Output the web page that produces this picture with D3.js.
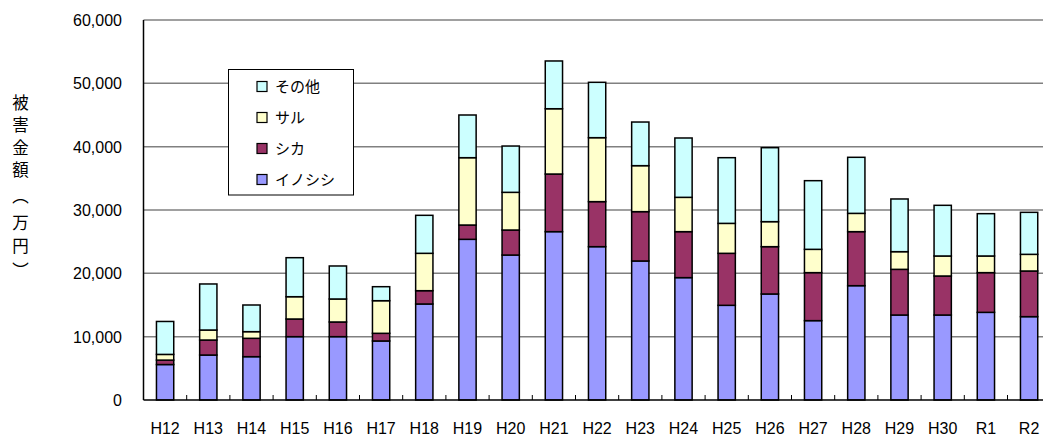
<!DOCTYPE html>
<html>
<head>
<meta charset="utf-8">
<script src="https://cdn.jsdelivr.net/npm/d3@7"></script>
<style>
body { margin: 0; background: #fff; }
text { font-family: "Liberation Sans", Arial, sans-serif; }
.jp { font-family: "Noto Sans CJK JP", sans-serif; }
</style>
</head>
<body>
<script>
var width = 1043, height = 438;

// years (Heisei / Reiwa)
var years = ["H12","H13","H14","H15","H16","H17","H18","H19","H20","H21","H22",
             "H23","H24","H25","H26","H27","H28","H29","H30","R1","R2"];

// damage in 10,000 yen
var inoshishi = [5600, 7100, 6840, 10000, 10000, 9320, 15160, 25370, 22890, 26580, 24210,
                 21950, 19320, 14950, 16740, 12530, 18050, 13420, 13420, 13840, 13160];
var shika     = [700, 2370, 2900, 2790, 2320, 1210, 2100, 2260, 3950, 9100, 7110,
                 7790, 7260, 8210, 7470, 7580, 8530, 7210, 6160, 6270, 7210];
var saru      = [900, 1580, 1050, 3520, 3630, 5150, 5900, 10630, 5950, 10310, 10100,
                 7260, 5420, 4730, 3950, 3680, 2890, 2790, 3160, 2630, 2630];
var sonota    = [5200, 7270, 4210, 6160, 5210, 2210, 6000, 6740, 7310, 7540, 8740,
                 6890, 9370, 10370, 11680, 10840, 8850, 8320, 8000, 6680, 6630];

var seriesKeys = ["イノシシ", "シカ", "サル", "その他"];
var seriesColors = ["#9999ff", "#993366", "#ffffcc", "#ccffff"];
var yTicks = [0, 10000, 20000, 30000, 40000, 50000, 60000];

var rows = years.map(function(y, i){
    return {year: y, "イノシシ": inoshishi[i], "シカ": shika[i], "サル": saru[i], "その他": sonota[i]};
});

var plotLeft = 143.5, plotTop = 20, plotBottom = 400;
var step = 43.2;
var plotRight = plotLeft + step * years.length;

var svg = d3.select("body")
.append("svg")
.attr("width", width)
.attr("height", height);

var x = d3.scaleBand()
.domain(years)
.range([plotLeft, plotRight])
.paddingInner(0.6)
.paddingOuter(0.3);

var y = d3.scaleLinear()
.domain([0, 60000])
.range([plotBottom, plotTop]);

// gridlines
svg.append("g")
.selectAll("line")
.data(yTicks.slice(1))
.enter().append("line")
.attr("x1", plotLeft).attr("x2", plotRight)
.attr("y1", function(d){ return y(d); })
.attr("y2", function(d){ return y(d); })
.attr("stroke", "#808080")
.attr("stroke-width", 1.5);

// y tick labels
svg.append("g")
.selectAll("text")
.data(yTicks)
.enter().append("text")
.attr("x", 122)
.attr("y", function(d){ return y(d) + 6; })
.attr("text-anchor", "end")
.attr("font-size", 16)
.text(function(d){ return d3.format(",")(d); });

// stacked bars
var stack = d3.stack().keys(seriesKeys);
var layers = stack(rows);

svg.append("g")
.selectAll("g")
.data(layers)
.enter().append("g")
.attr("fill", function(d, i){ return seriesColors[i]; })
.selectAll("rect")
.data(function(d){ return d; })
.enter().append("rect")
.attr("x", function(d){ return x(d.data.year); })
.attr("width", x.bandwidth())
.attr("y", function(d){ return y(d[1]); })
.attr("height", function(d){ return y(d[0]) - y(d[1]); })
.attr("stroke", "#000")
.attr("stroke-width", 1.5);

// axes lines
svg.append("line")
.attr("x1", plotLeft).attr("x2", plotLeft)
.attr("y1", plotTop).attr("y2", plotBottom)
.attr("stroke", "#000").attr("stroke-width", 1.5);

svg.append("line")
.attr("x1", plotLeft).attr("x2", plotRight)
.attr("y1", plotBottom).attr("y2", plotBottom)
.attr("stroke", "#000").attr("stroke-width", 1.5);

// category ticks
svg.append("g")
.selectAll("line")
.data(years.slice(1))
.enter().append("line")
.attr("x1", function(d){ return x(d) - x.step() * x.paddingOuter(); })
.attr("x2", function(d){ return x(d) - x.step() * x.paddingOuter(); })
.attr("y1", plotBottom - 5).attr("y2", plotBottom)
.attr("stroke", "#000").attr("stroke-width", 1);

// x labels
svg.append("g")
.selectAll("text")
.data(years)
.enter().append("text")
.attr("x", function(d){ return x(d) + x.bandwidth() / 2; })
.attr("y", 434)
.attr("text-anchor", "middle")
.attr("font-size", 16)
.text(function(d){ return d; });

// y axis title, one char per line (parens in vertical form)
var titleChars = ["被","害","金","額","︵","万","円","︶"];
var titleY = [101.5, 124, 146.5, 169, 195, 222, 245, 270];
svg.append("g")
.selectAll("text")
.data(titleChars)
.enter().append("text")
.attr("class", "jp")
.attr("x", 20.5)
.attr("y", function(d, i){ return titleY[i]; })
.attr("dominant-baseline", "central")
.attr("text-anchor", "middle")
.attr("font-size", 16.5)
.text(function(d){ return d; });

// legend
var legend = svg.append("g");
legend.append("rect")
.attr("x", 228.5).attr("y", 69.5)
.attr("width", 125).attr("height", 125.5)
.attr("fill", "#fff")
.attr("stroke", "#000").attr("stroke-width", 1);

var legendOrder = [3, 2, 1, 0];
var items = legend.selectAll(".item")
.data(legendOrder)
.enter().append("g")
.attr("class", "item")
.attr("transform", function(d, i){ return "translate(0," + (86.5 + i * 31) + ")"; });

items.append("rect")
.attr("x", 257).attr("y", -5)
.attr("width", 10).attr("height", 10)
.attr("fill", function(d){ return seriesColors[d]; })
.attr("stroke", "#000").attr("stroke-width", 1.2);

items.append("text")
.attr("class", "jp")
.attr("x", 275).attr("y", 5.5)
.attr("font-size", 15)
.text(function(d){ return seriesKeys[d]; });
</script>
</body>
</html>
